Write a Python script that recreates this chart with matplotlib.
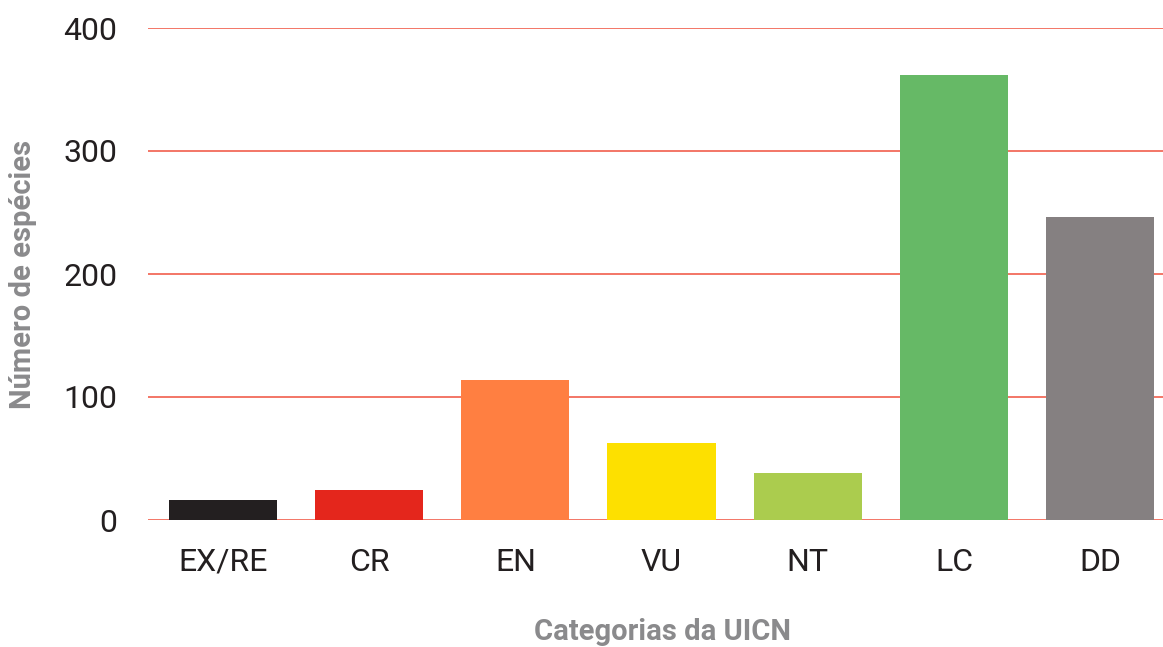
import matplotlib
matplotlib.use("Agg")
import matplotlib.pyplot as plt

categories = ["EX/RE", "CR", "EN", "VU", "NT", "LC", "DD"]
species = [16, 24, 114, 63, 38, 362, 246]
bar_colors = ["#231f20", "#e4261c", "#ff7f41", "#fde000", "#abcc4e", "#66b966", "#858081"]
y_ticks = [0, 100, 200, 300, 400]

plt.rcParams["font.family"] = ["Roboto", "DejaVu Sans"]

fig = plt.figure(figsize=(11.63, 6.47), dpi=100)
ax = fig.add_axes([148 / 1163, 1 - 520 / 647, 1 - 148 / 1163, (520 - 28) / 647])

x = list(range(len(categories)))
ax.bar(x, species, width=0.74, color=bar_colors, zorder=3)

ax.set_xlim(-0.513, 6.43)
ax.set_ylim(0, 400)
ax.set_yticks(y_ticks)
ax.set_xticks(x)
ax.set_xticklabels(categories)
ax.tick_params(axis="both", length=0, labelsize=23, labelcolor="#231f20")
ax.tick_params(axis="x", pad=20)
ax.tick_params(axis="y", pad=22)

ax.grid(axis="y", color="#f26b5b", linewidth=1.3, zorder=0)
for s in ax.spines.values():
    s.set_visible(False)

fig.text(23 / 1163, 1 - 274 / 647, "Número de espécies", rotation=90, ha="center", va="center",
         fontsize=21, fontweight="bold", color="#8a8a8c")
fig.text(662 / 1163, 1 - 632 / 647, "Categorias da UICN", ha="center", va="center",
         fontsize=21, fontweight="bold", color="#8a8a8c")

fig.savefig("out.png", dpi=100)
